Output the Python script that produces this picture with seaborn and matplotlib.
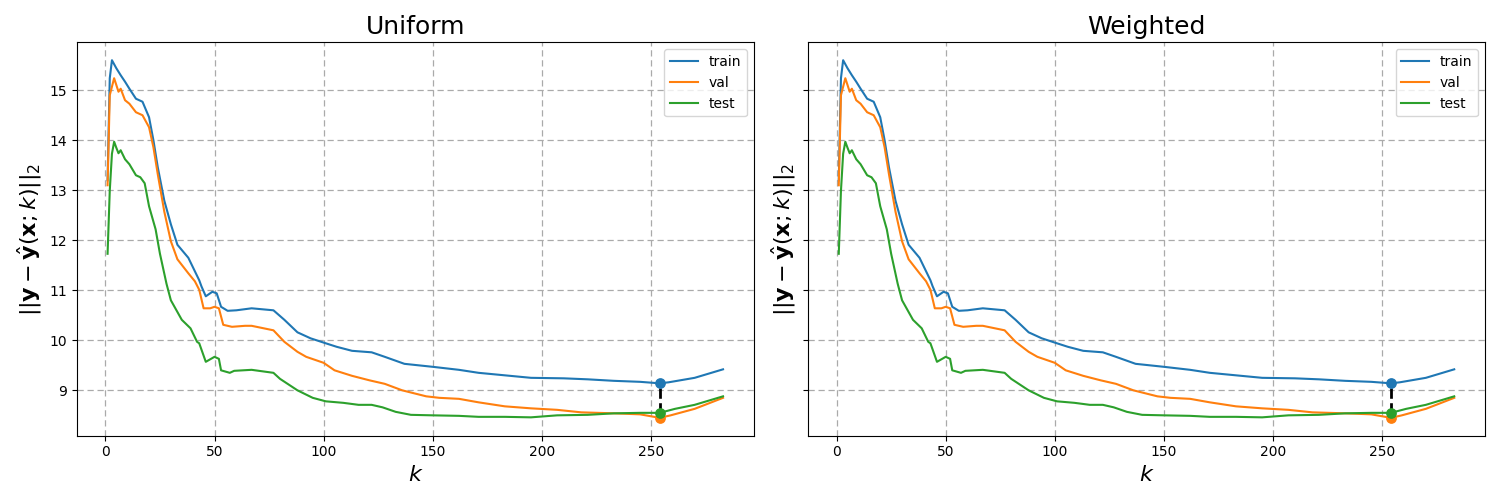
import numpy as np
import pandas as pd
import matplotlib
matplotlib.use("Agg")
import matplotlib.pyplot as plt
import seaborn as sns

titles = ["Uniform", "Weighted"]
series_names = ["train", "val", "test"]
best_k = 254

train_k = [1, 2, 3, 5, 7, 9, 11, 14, 17, 20, 22, 24, 27, 30, 33, 38, 41, 43, 44, 46, 49,
           51, 53, 56, 60, 67, 77, 82, 88, 94, 101, 106, 113, 122, 128, 137, 150, 162, 171, 183, 195,
           210, 221, 233, 245, 254, 258, 270, 283]
train_v = [13.2, 15.24, 15.6, 15.44, 15.3, 15.17, 15.03, 14.83, 14.77, 14.46, 14.0,
           13.46, 12.79, 12.32, 11.91, 11.65, 11.38, 11.2, 11.08, 10.88, 10.97,
           10.94, 10.67, 10.59, 10.6, 10.64, 10.6, 10.41, 10.16, 10.04, 9.94,
           9.87, 9.79, 9.76, 9.67, 9.53, 9.47, 9.41, 9.35, 9.30, 9.25,
           9.24, 9.22, 9.19, 9.17, 9.14, 9.16, 9.25, 9.42]

val_k = [1, 2, 4, 6, 7, 9, 11, 14, 17, 20, 22, 24, 27, 30, 33, 38, 41, 43, 45, 48,
         50, 52, 54, 58, 64, 67, 77, 82, 88, 92, 100, 105, 113, 121, 128, 136, 147, 153, 162, 171,
         183, 195, 207, 218, 233, 245, 254, 259, 270, 283]
val_v = [13.1, 14.9, 15.24, 14.97, 15.03, 14.8, 14.73, 14.56, 14.5, 14.26,
         13.86, 13.32, 12.57, 11.98, 11.62, 11.34, 11.18, 11.01, 10.64, 10.64,
         10.67, 10.64, 10.31, 10.27, 10.29, 10.29, 10.2, 9.97, 9.77, 9.67,
         9.55, 9.40, 9.29, 9.20, 9.13, 9.0, 8.88, 8.85, 8.83, 8.76,
         8.68, 8.64, 8.61, 8.56, 8.54, 8.52, 8.45, 8.50, 8.63, 8.85]

test_k = [1, 2, 3, 4, 5, 6, 7, 9, 11, 14, 16, 18, 20, 23, 25, 28, 30, 35, 39, 42,
          43, 46, 50, 52, 53, 57, 59, 67, 77, 80, 88, 95, 101, 109, 116, 122, 127, 133, 140, 150,
          162, 171, 183, 195, 207, 221, 233, 245, 254, 261, 270, 283]
test_v = [11.73, 12.99, 13.73, 13.97, 13.85, 13.74, 13.8, 13.62, 13.52, 13.3,
          13.26, 13.14, 12.68, 12.22, 11.73, 11.13, 10.8, 10.41, 10.24, 9.97,
          9.94, 9.57, 9.67, 9.63, 9.40, 9.35, 9.39, 9.41, 9.35, 9.23,
          9.0, 8.85, 8.78, 8.75, 8.71, 8.71, 8.66, 8.57, 8.51, 8.50,
          8.49, 8.47, 8.47, 8.46, 8.50, 8.51, 8.54, 8.55, 8.55, 8.63,
          8.71, 8.88]

frames = []
for name, ks, vs in zip(series_names, [train_k, val_k, test_k], [train_v, val_v, test_v]):
    frames.append(pd.DataFrame({"k": ks, "value": vs, "split": name}))
df = pd.concat(frames, ignore_index=True)

palette = {"train": "#1f77b4", "val": "#ff7f0e", "test": "#2ca02c"}

fig, axes = plt.subplots(1, 2, figsize=(15, 5), dpi=100)
axes[1].sharey(axes[0])
for i, (ax, title) in enumerate(zip(axes, titles)):
    sns.lineplot(data=df, x="k", y="value", hue="split", palette=palette,
                 estimator=None, ax=ax, linewidth=1.5)
    best = {n: df[(df.split == n) & (df.k == best_k)].value.iloc[0] for n in series_names}
    ax.plot([best_k, best_k], [best["test"], best["train"]], color="black",
            linestyle="--", linewidth=2, zorder=4)
    for n in series_names:
        ax.scatter([best_k], [best[n]], color=palette[n], s=45, zorder=5)
    ax.grid(True, linestyle=(0, (5, 3)), color="#aaaaaa", linewidth=0.9)
    ax.set_title(title, fontsize=18)
    ax.set_xlabel("$k$", fontsize=16)
    ax.set_ylabel(r"$||\mathbf{y} - \hat{\mathbf{y}}(\mathbf{x}; k)||_2$", fontsize=16)
    handles, labels = ax.get_legend_handles_labels()
    ax.legend(handles[:3], labels[:3], loc="upper right")
    if i == 1:
        ax.tick_params(labelleft=False)

fig.tight_layout()
fig.savefig("out.png", dpi=100)
